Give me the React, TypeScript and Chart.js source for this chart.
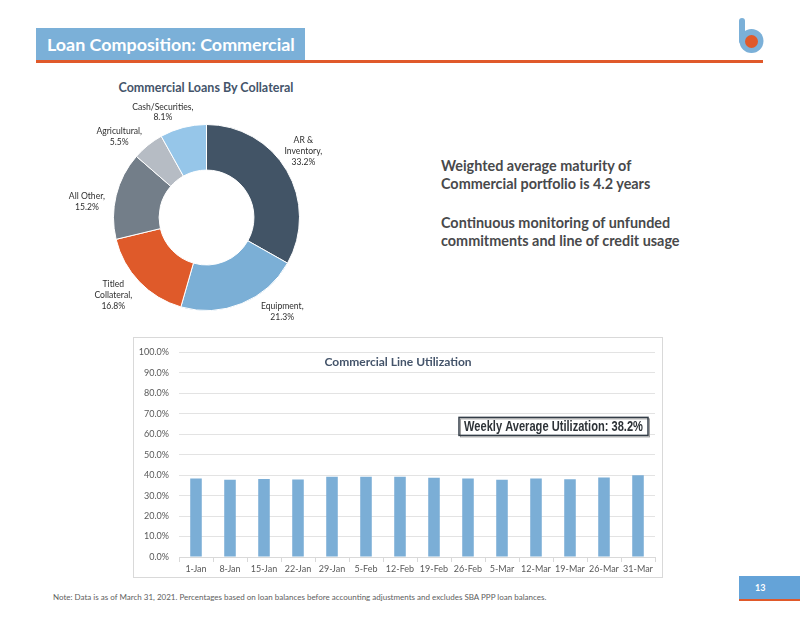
import React, { useEffect, useRef } from 'react';
import { Chart, registerables } from 'chart.js';

Chart.register(...registerables);

// ---- Data ----
const collateralCategories = ['AR &\nInventory', 'Equipment', 'Titled\nCollateral', 'All Other', 'Agricultural', 'Cash/Securities'];
const collateralShares = [33.2, 21.3, 16.8, 15.2, 5.5, 8.1];
const collateralColors = ['#425466', '#7BAFD6', '#DF5A2A', '#737E89', '#B6BCC4', '#96C6E9'];

const weekLabels = ['1-Jan', '8-Jan', '15-Jan', '22-Jan', '29-Jan', '5-Feb', '12-Feb', '19-Feb', '26-Feb', '5-Mar', '12-Mar', '19-Mar', '26-Mar', '31-Mar'];
const lineUtilization = [38.4, 37.8, 38.1, 37.9, 39.2, 39.2, 39.2, 38.7, 38.4, 37.8, 38.4, 38.0, 38.8, 39.9];
const weeklyAverageUtilization = 38.2;

// label nudges for the donut's outside labels (layout only)
const donutLabelNudges = [[-5, -7], [31, -15], [-8, -4], [-5, 12], [-13, 11], [-14, 9]];

const donutLabelPlugin = {
  id: 'donutLabels',
  afterDatasetsDraw(chart: any, _args: any, opts: any) {
    const ctx = chart.ctx;
    const meta = chart.getDatasetMeta(0);
    const labels = chart.data.labels;
    const data = chart.data.datasets[0].data;
    ctx.save();
    ctx.font = opts.font;
    ctx.fillStyle = opts.color;
    ctx.textAlign = 'center';
    ctx.textBaseline = 'middle';
    meta.data.forEach((arc: any, i: number) => {
      const p = arc.getProps(['x', 'y', 'startAngle', 'endAngle', 'outerRadius'], true);
      const mid = (p.startAngle + p.endAngle) / 2;
      const r = p.outerRadius + opts.distance;
      const n = opts.nudges[i] || [0, 0];
      const cx = p.x + Math.cos(mid) * r + n[0];
      const cy = p.y + Math.sin(mid) * r + n[1];
      const lines = String(labels[i]).split('\n');
      lines[lines.length - 1] += ',';
      lines.push(Number(data[i]).toFixed(1) + '%');
      lines.forEach((ln: string, k: number) => {
        ctx.fillText(ln, cx, cy + (k - (lines.length - 1) / 2) * opts.lineHeight);
      });
    });
    ctx.restore();
  },
};

const barOverlayPlugin = {
  id: 'barOverlay',
  afterDraw(chart: any, _args: any, opts: any) {
    const { ctx, chartArea } = chart;
    ctx.save();
    ctx.font = 'bold 12px Lato, "Open Sans", sans-serif';
    ctx.fillStyle = '#44546A';
    ctx.textAlign = 'center';
    ctx.textBaseline = 'middle';
    ctx.fillText(opts.title, chart.width / 2, chartArea.top + 10);

    // annotation box
    const bw = 189;
    const bh = 18;
    const bx = chartArea.right - 7 - bw;
    const by = chartArea.top + 65;
    ctx.fillStyle = '#FFFFFF';
    ctx.fillRect(bx, by, bw, bh);
    ctx.strokeStyle = '#A0A0A0';
    ctx.lineWidth = 1;
    ctx.strokeRect(bx + 1.5, by + 1.5, bw, bh);
    ctx.strokeStyle = '#333D47';
    ctx.lineWidth = 1.5;
    ctx.strokeRect(bx, by, bw, bh);
    ctx.font = 'bold 14px "Liberation Sans Narrow", "Liberation Sans", Arial, sans-serif';
    ctx.fillStyle = '#2E3338';
    const txt = opts.annotation;
    const w = ctx.measureText(txt).width;
    const target = 179;
    const sx = w > target ? target / w : 1;
    ctx.translate(bx + bw / 2, by + bh / 2 + 1);
    ctx.scale(sx, 1);
    ctx.textAlign = 'center';
    ctx.fillText(txt, 0, 0);
    ctx.restore();
  },
};

function DonutChart() {
  const ref = useRef<HTMLCanvasElement>(null);
  useEffect(() => {
    if (!ref.current) return;
    const chart = new Chart(ref.current, {
      type: 'doughnut',
      data: {
        labels: collateralCategories,
        datasets: [
          {
            data: collateralShares,
            backgroundColor: collateralColors,
            borderColor: '#FFFFFF',
            borderWidth: 1,
            hoverOffset: 0,
          },
        ],
      },
      options: {
        animation: false,
        responsive: false,
        cutout: '51%',
        layout: { padding: { left: 73, right: 73, top: 29, bottom: 29 } },
        plugins: {
          legend: { display: false },
          tooltip: { enabled: false },
          donutLabels: {
            font: '8.6px Lato, "Open Sans", sans-serif',
            color: '#2F2F2F',
            distance: 25,
            lineHeight: 10.8,
            nudges: donutLabelNudges,
          },
        } as any,
      },
      plugins: [donutLabelPlugin as any],
    });
    return () => chart.destroy();
  }, []);
  return (
    <canvas
      ref={ref}
      width={333}
      height={245}
      style={{ position: 'absolute', left: 40, top: 95, width: 333, height: 245 }}
    />
  );
}

function BarChart() {
  const ref = useRef<HTMLCanvasElement>(null);
  useEffect(() => {
    if (!ref.current) return;
    const tickFont = { family: 'Lato, "Open Sans", sans-serif', size: 9 };
    const chart = new Chart(ref.current, {
      type: 'bar',
      data: {
        labels: weekLabels,
        datasets: [
          {
            data: lineUtilization,
            backgroundColor: '#7BAED6',
            borderWidth: 0,
            barPercentage: 0.34,
            categoryPercentage: 1,
          },
        ],
      },
      options: {
        animation: false,
        responsive: false,
        layout: { padding: { left: 0, right: 8, top: 11, bottom: 0 } },
        scales: {
          x: {
            grid: {
              display: true,
              drawOnChartArea: false,
              offset: true,
              tickLength: 5,
              color: '#D9D9D9',
            },
            border: { display: true, color: '#D9D9D9' },
            ticks: { font: tickFont, color: '#595959', padding: 2, maxRotation: 0, autoSkip: false },
            afterFit: (scale: any) => {
              scale.height = 21;
            },
          },
          y: {
            min: 0,
            max: 100,
            ticks: {
              stepSize: 10,
              font: tickFont,
              color: '#595959',
              padding: 10,
              callback: (v: any) => Number(v).toFixed(1) + '%',
            },
            grid: { color: '#E3E3E3', drawTicks: false },
            border: { display: false },
            afterFit: (scale: any) => {
              scale.width = 46;
            },
          },
        },
        plugins: {
          legend: { display: false },
          tooltip: { enabled: false },
          barOverlay: {
            title: 'Commercial Line Utilization',
            annotation: `Weekly Average Utilization: ${weeklyAverageUtilization.toFixed(1)}%`,
          },
        } as any,
      },
      plugins: [barOverlayPlugin as any],
    });
    return () => chart.destroy();
  }, []);
  return (
    <div
      style={{
        position: 'absolute',
        left: 133,
        top: 337,
        width: 530,
        height: 241,
        boxSizing: 'border-box',
        border: '1px solid #D9D9D9',
      }}
    >
      <canvas
        ref={ref}
        width={530}
        height={241}
        style={{ position: 'absolute', left: -1, top: -1, width: 530, height: 241 }}
      />
    </div>
  );
}

export default function App() {
  const sans = 'Lato, "Open Sans", sans-serif';
  return (
    <div
      style={{
        position: 'absolute',
        left: 0,
        top: 0,
        width: 800,
        height: 618,
        background: '#FFFFFF',
        overflow: 'hidden',
        fontFamily: sans,
      }}
    >
      {/* Title bar */}
      <div
        style={{
          position: 'absolute',
          left: 36,
          top: 28,
          width: 269,
          height: 32,
          background: '#7BB0D8',
          color: '#FFFFFF',
          fontSize: 17.9,
          fontWeight: 700,
          lineHeight: '32px',
          paddingLeft: 11,
          boxSizing: 'border-box',
          whiteSpace: 'nowrap',
        }}
      >
        Loan Composition: Commercial
      </div>
      <div style={{ position: 'absolute', left: 36, top: 60, width: 727, height: 2.5, background: '#E0592A' }} />

      {/* Logo */}
      <svg style={{ position: 'absolute', left: 730, top: 12, width: 40, height: 48 }} viewBox="730 12 40 48">
        <line x1={742} y1={21} x2={742} y2={41} stroke="#7BB0D8" strokeWidth={6} strokeLinecap="round" />
        <circle cx={751.5} cy={41} r={12} fill="#7BB0D8" />
        <circle cx={751.5} cy={41.5} r={6.5} fill="#E0592A" />
      </svg>

      {/* Donut title */}
      <div
        style={{
          position: 'absolute',
          left: 0,
          top: 80,
          width: 412,
          textAlign: 'center',
          fontSize: 12.5,
          fontWeight: 700,
          color: '#44546A',
          lineHeight: '16px',
        }}
      >
        Commercial Loans By Collateral
      </div>
      <DonutChart />

      {/* Right text */}
      <div
        style={{
          position: 'absolute',
          left: 441,
          top: 157,
          fontSize: 14.4,
          fontWeight: 700,
          color: '#48494B',
          lineHeight: '17.5px',
          whiteSpace: 'nowrap',
        }}
      >
        Weighted average maturity of
        <br />
        Commercial portfolio is 4.2 years
      </div>
      <div
        style={{
          position: 'absolute',
          left: 441,
          top: 214,
          fontSize: 14.4,
          fontWeight: 700,
          color: '#48494B',
          lineHeight: '17.5px',
          whiteSpace: 'nowrap',
        }}
      >
        Continuous monitoring of unfunded
        <br />
        commitments and line of credit usage
      </div>

      <BarChart />

      {/* Footnote */}
      <div
        style={{
          position: 'absolute',
          left: 53,
          top: 592,
          fontSize: 8,
          color: '#606060',
          lineHeight: '10px',
          whiteSpace: 'nowrap',
        }}
      >
        Note: Data is as of March 31, 2021. Percentages based on loan balances before accounting adjustments and excludes SBA PPP loan balances.
      </div>

      {/* Page number */}
      <div
        style={{
          position: 'absolute',
          left: 739,
          top: 576,
          width: 61,
          height: 23,
          background: '#64A3D8',
          color: '#FFFFFF',
          fontSize: 9,
          fontWeight: 700,
          lineHeight: '23px',
          paddingLeft: 16,
          boxSizing: 'border-box',
        }}
      >
        13
      </div>
      <div style={{ position: 'absolute', left: 739, top: 599, width: 61, height: 2, background: '#E0592A' }} />
    </div>
  );
}
